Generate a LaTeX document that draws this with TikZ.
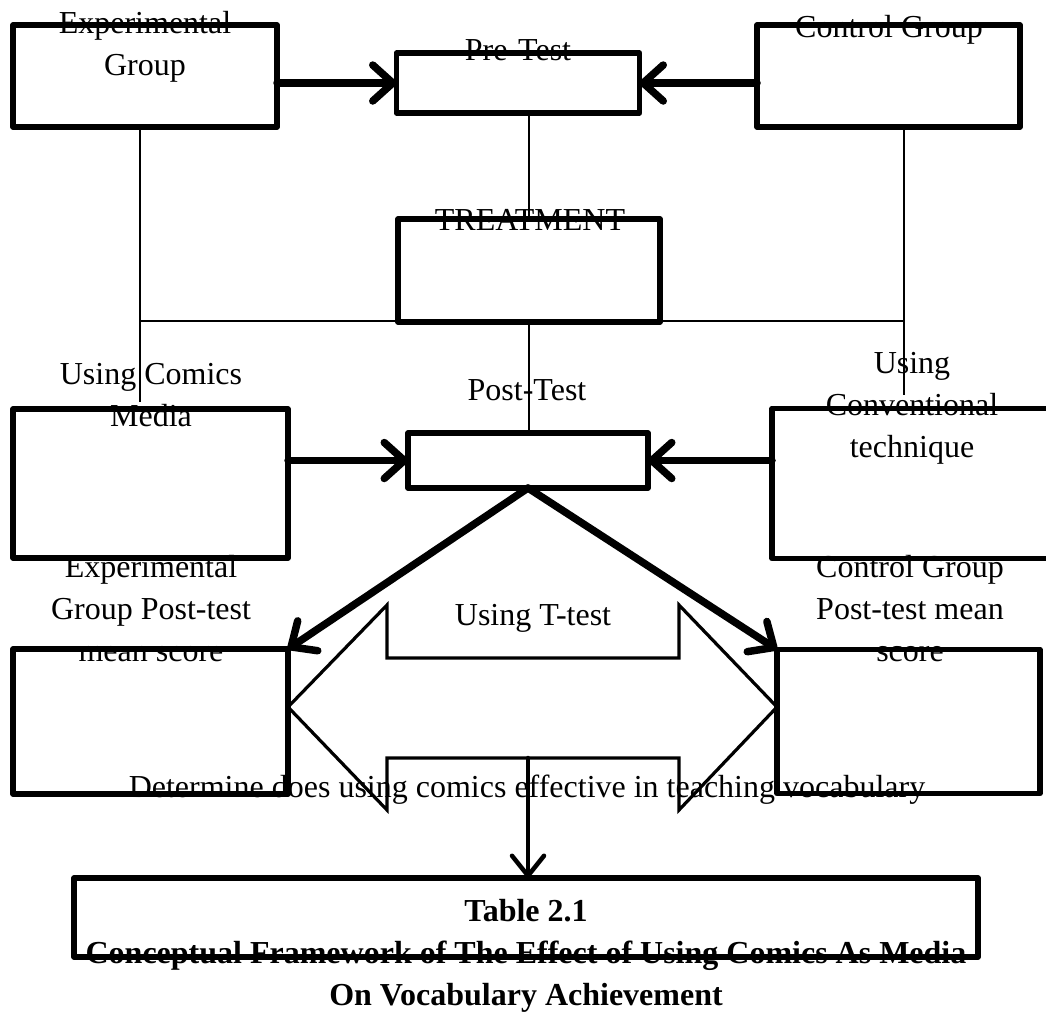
\documentclass[tikz,border=0pt]{standalone}
\usepackage{fontspec}
\setmainfont{Liberation Serif}
\usetikzlibrary{arrows.meta,calc}
\begin{document}
\begin{tikzpicture}[x=1pt,y=-1pt,
  box/.style={draw,line width=5.5pt,line join=round,inner sep=0pt,outer sep=0pt},
  lbl/.style={align=center,font=\fontsize{32}{42}\selectfont,inner sep=0pt},
  blbl/.style={align=center,font=\fontsize{32}{42}\selectfont\bfseries,inner sep=0pt},
  thinline/.style={line width=1.8pt},
  arr/.style={line width=7.5pt,line cap=round,-{Straight Barb[length=20pt,width=36pt,line cap=round,line join=round]}},
  dblarrow/.style={draw,line width=3.2pt,line join=miter}]
\clip (0,0) rectangle (1046,1013);
\fill[white] (0,0) rectangle (1046,1013);
% boxes
\node[box,minimum width=264pt,minimum height=102pt] (exp) at (145,76) {};
\node[box,minimum width=243pt,minimum height=60pt] (pre) at (518,83) {};
\node[box,minimum width=263pt,minimum height=102pt] (ctrl) at (888.5,76) {};
\node[box,minimum width=262pt,minimum height=103pt] (treat) at (529,270.5) {};
\node[box,minimum width=275pt,minimum height=149pt] (comics) at (150.5,483.5) {};
\node[box,minimum width=240pt,minimum height=55pt] (post) at (528,460.5) {};
\node[box,minimum width=300pt,minimum height=150pt] (conv) at (922,483.5) {};
\node[box,minimum width=275pt,minimum height=145pt] (expm) at (150.5,721.5) {};
\node[box,minimum width=263pt,minimum height=144pt] (ctrlm) at (908.5,721.5) {};
\node[box,minimum width=904pt,minimum height=79pt] (tbl) at (526,917.5) {};
% thin connectors
\coordinate (lj) at (140,321);
\coordinate (rj) at (904,321);
\coordinate (lend) at (140,402);
\coordinate (rend) at (904,395);
\draw[thinline] (lj |- exp.south) -- (lend);
\draw[thinline] (rj |- ctrl.south) -- (rend);
\draw[thinline] (lj) -- (rj);
\draw[thinline] (treat.north) -- (treat.north |- pre.south);
\draw[thinline] (treat.south) -- (treat.south |- post.north);
% thick arrows
\draw[arr] (exp.east |- pre.west) -- (pre.west);
\draw[arr] (ctrl.west |- pre.east) -- (pre.east);
\draw[arr] (comics.east |- post.west) -- (post.west);
\draw[arr] (conv.west |- post.east) -- (post.east);
\draw[arr] (post.south) -- (expm.north east);
\draw[arr] (post.south) -- (ctrlm.north west);
% double block arrow (T-test)
\draw[dblarrow] (288,707) -- (387,605) -- (387,658) -- (679,658) -- (679,605) -- (777,707)
  -- (679,810) -- (679,758) -- (387,758) -- (387,810) -- cycle;
\coordinate (ta) at (528,758);
\draw[line width=4.5pt,line cap=round,-{Straight Barb[length=20pt,width=32pt,line cap=round,line join=round]}] (ta) -- (ta |- tbl.north);
% labels
\node[lbl] (lexp) at (145,47) {Experimental\\Group};
\node[lbl] (lpre) at (518,50) {Pre-Test};
\node[lbl] (lctrl) at (889,30) {Control Group};
\node[lbl] (ltreat) at (530,220) {TREATMENT};
\node[lbl] (lcomics) at (151,395) {Using Comics\\Media};
\node[lbl] (lpost) at (527,390) {Post-Test};
\node[lbl] (lconv) at (912,408) {Using\\Conventional\\technique};
\node[lbl] (lexpm) at (151,609) {Experimental\\Group Post-test\\mean score};
\node[lbl] (lctrlm) at (910,609) {Control Group\\Post-test mean\\score};
\node[lbl] (lttest) at (533,618) {Using T-test};
\node[lbl] (ldet) at (527,790) {Determine does using comics effective in teaching vocabulary};
\node[blbl] (ltbl) at (526,956) {Table 2.1\\Conceptual Framework of The Effect of Using Comics As Media\\On Vocabulary Achievement};
\end{tikzpicture}
\end{document}
